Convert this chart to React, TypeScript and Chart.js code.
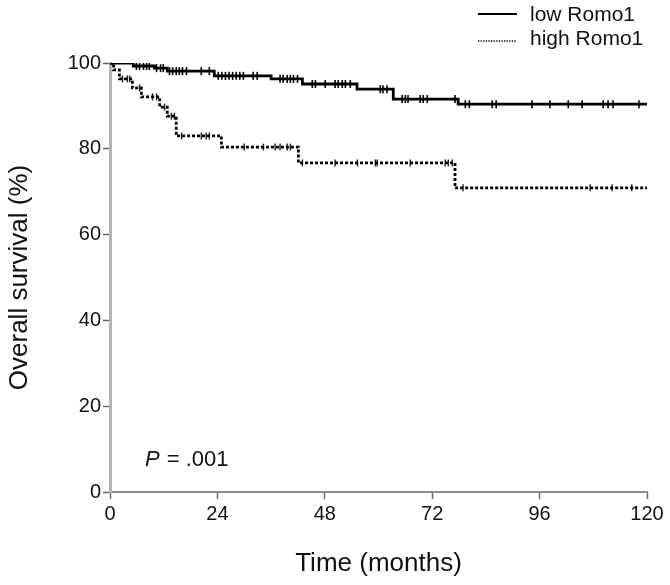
import React, { useEffect, useRef } from 'react';
import { Chart, registerables } from 'chart.js';

Chart.register(...registerables);

const FONT = "'Liberation Sans', Arial, Helvetica, sans-serif";

const seriesNames = ['low Romo1', 'high Romo1'];

// Kaplan–Meier steps: time (months) and survival (%) after each step
const lowTimes = [0, 5.2, 9.9, 12.8, 23.3, 36, 43, 55.2, 63.3, 77.8, 120];
const lowSurvival = [100, 99.3, 98.8, 98.1, 97.0, 96.3, 95.1, 93.9, 91.6, 90.4, 90.4];

const highTimes = [0, 0.8, 2.1, 5.0, 7.0, 11.1, 12.8, 14.8, 24.9, 42.1, 77.1, 120];
const highSurvival = [100, 98.4, 96.3, 94.2, 92.1, 89.7, 87.6, 83.0, 80.4, 76.7, 70.9, 70.9];

// censored observations (months)
const lowCensored = [
  5.9, 6.6, 7.5, 8.2, 8.8,
  10.4, 11.3, 11.9,
  13.3, 14.0, 14.8, 15.5, 16.2, 17.1, 20.4, 22.2,
  24.2, 25.0, 25.8, 26.6, 27.4, 28.2, 29.0, 29.8, 32.0, 32.9,
  38.0, 38.7, 39.6, 40.3, 41.0, 41.9,
  45.2, 45.9, 48.1, 50.3, 51.0, 51.9, 52.6, 53.7,
  60.4, 61.0, 61.9,
  65.3, 66.0, 66.6, 69.3, 70.0, 70.9, 77.1,
  79.4, 80.3, 85.4, 86.3, 94.3, 98.3, 102.4, 105.5, 110.2, 111.3, 112.4, 118.2,
];
const highCensored = [
  2.8, 3.9, 4.4, 6.6, 9.5, 10.4, 12.2, 13.7, 14.4,
  16.0, 20.4, 21.5, 22.2,
  30.0, 34.3, 36.9, 38.0, 39.6, 40.3,
  43.0, 50.3, 55.3, 59.3, 59.7, 67.1, 74.9, 75.6, 76.5,
  78.9, 107.3, 112.2, 116.6,
];

const xTicks = [0, 24, 48, 72, 96, 120];
const yTicks = [0, 20, 40, 60, 80, 100];
const xTitle = 'Time (months)';
const yTitle = 'Overall survival (%)';
const pLetter = 'P';
const pRest = ' = .001';

function survivalAt(times: number[], surv: number[], t: number): number {
  let v = surv[0];
  for (let i = 0; i < times.length; i++) if (times[i] <= t) v = surv[i];
  return v;
}

const legendPlugin = {
  id: 'kmLegend',
  afterDraw(chart: any) {
    const ctx = chart.ctx as CanvasRenderingContext2D;
    ctx.save();
    const rows = [
      { label: seriesNames[0], dash: [] as number[], width: 2, y: 14 },
      { label: seriesNames[1], dash: [1.3, 1.3], width: 1.6, y: 41 },
    ];
    rows.forEach((r, i) => {
      ctx.beginPath();
      ctx.setLineDash(r.dash);
      ctx.lineWidth = r.width;
      ctx.strokeStyle = '#000';
      ctx.moveTo(478, r.y);
      ctx.lineTo(517, r.y);
      ctx.stroke();
      ctx.setLineDash([]);
      ctx.fillStyle = '#111';
      ctx.font = `21px ${FONT}`;
      ctx.textBaseline = 'middle';
      ctx.textAlign = 'left';
      ctx.fillText(r.label, 530, i === 0 ? 15 : 39);
    });
    // P value
    const { left, bottom } = chart.chartArea;
    ctx.textBaseline = 'alphabetic';
    ctx.font = `italic 22px ${FONT}`;
    const px = left + 35;
    const py = bottom - 26;
    ctx.fillText(pLetter, px, py);
    const w = ctx.measureText(pLetter).width;
    ctx.font = `22px ${FONT}`;
    ctx.fillText(pRest, px + w + 1, py);
    ctx.restore();
  },
};

export default function App() {
  const canvasRef = useRef<HTMLCanvasElement | null>(null);

  useEffect(() => {
    if (!canvasRef.current) return;
    const lowLine = lowTimes.map((t, i) => ({ x: t, y: lowSurvival[i] }));
    const highLine = highTimes.map((t, i) => ({ x: t, y: highSurvival[i] }));
    const lowMarks = lowCensored.map((t) => ({ x: t, y: survivalAt(lowTimes, lowSurvival, t) }));
    const highMarks = highCensored.map((t) => ({ x: t, y: survivalAt(highTimes, highSurvival, t) }));

    const chart = new Chart(canvasRef.current, {
      type: 'line',
      data: {
        datasets: [
          {
            label: seriesNames[1],
            data: highLine,
            stepped: 'before',
            borderColor: '#000',
            borderWidth: 2.8,
            borderDash: [3, 2],
            pointRadius: 0,
            fill: false,
          },
          {
            label: seriesNames[0],
            data: lowLine,
            stepped: 'before',
            borderColor: '#000',
            borderWidth: 2.8,
            pointRadius: 0,
            fill: false,
          },
          {
            label: 'low censored',
            data: lowMarks,
            showLine: false,
            pointStyle: 'line',
            rotation: 90,
            pointRadius: 4,
            pointBorderWidth: 1.6,
            pointBorderColor: '#000',
            pointBackgroundColor: '#000',
          },
          {
            label: 'high censored',
            data: highMarks,
            showLine: false,
            pointStyle: 'line',
            rotation: 90,
            pointRadius: 3.5,
            pointBorderWidth: 1.4,
            pointBorderColor: '#222',
            pointBackgroundColor: '#222',
          },
        ],
      },
      options: {
        responsive: false,
        animation: false,
        events: [],
        layout: { padding: { left: 0, right: 23, top: 63, bottom: 0 } },
        plugins: {
          legend: { display: false },
          tooltip: { enabled: false },
        },
        scales: {
          x: {
            type: 'linear',
            min: 0,
            max: 120,
            afterBuildTicks: (s: any) => {
              s.ticks = xTicks.map((v) => ({ value: v }));
            },
            afterFit: (s: any) => {
              s.height = 93;
            },
            grid: {
              drawOnChartArea: false,
              drawTicks: true,
              tickLength: 7,
              tickColor: '#666',
              tickWidth: 1.5,
            },
            border: { display: true, color: '#8a8a8a', width: 2 },
            ticks: {
              color: '#111',
              font: { family: FONT, size: 20 },
              padding: 3,
              maxRotation: 0,
            },
            title: {
              display: true,
              text: xTitle,
              color: '#111',
              font: { family: FONT, size: 26 },
              padding: { top: 0, bottom: 6 },
            },
          },
          y: {
            type: 'linear',
            min: 0,
            max: 100,
            afterBuildTicks: (s: any) => {
              s.ticks = yTicks.map((v) => ({ value: v }));
            },
            afterFit: (s: any) => {
              s.width = 110;
            },
            grid: {
              drawOnChartArea: false,
              drawTicks: true,
              tickLength: 7,
              tickColor: '#666',
              tickWidth: 1.5,
            },
            border: { display: true, color: '#b4b4b4', width: 3 },
            ticks: {
              color: '#111',
              font: { family: FONT, size: 20 },
              padding: 2,
            },
            title: {
              display: true,
              text: yTitle,
              color: '#111',
              font: { family: FONT, size: 26 },
              padding: { top: 4, bottom: 0 },
            },
          },
        },
      },
      plugins: [legendPlugin],
    });
    return () => chart.destroy();
  }, []);

  return (
    <div style={{ position: 'fixed', left: 0, top: 0, width: 670, height: 585, background: '#fff' }}>
      <canvas ref={canvasRef} width={670} height={585} style={{ display: 'block' }} />
    </div>
  );
}
